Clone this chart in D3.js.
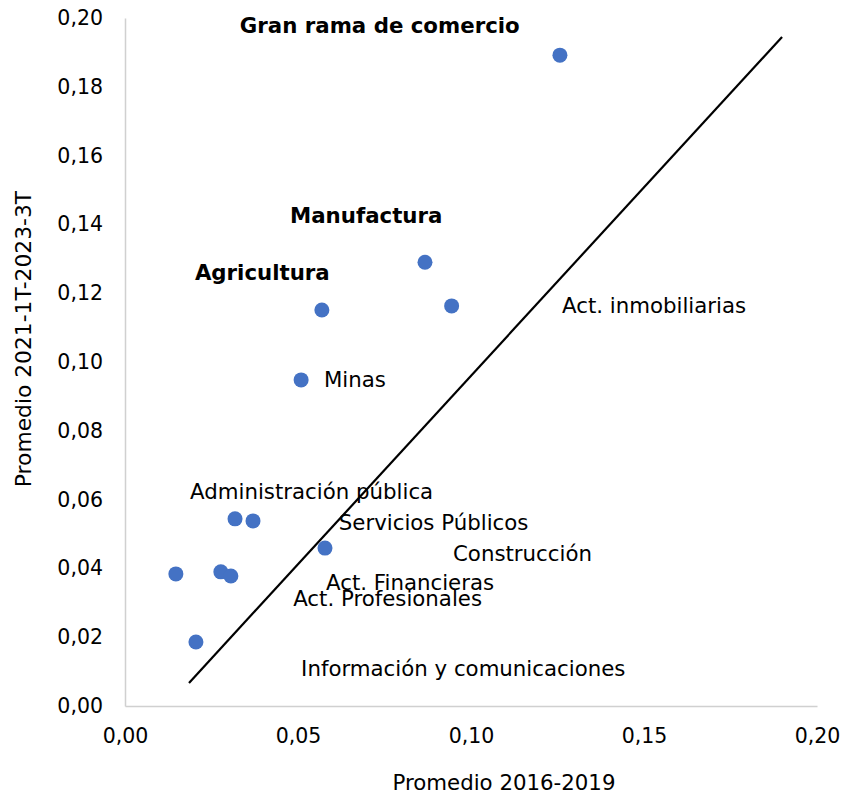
<!DOCTYPE html>
<html>
<head>
<meta charset="utf-8">
<script src="https://cdn.jsdelivr.net/npm/d3@7"></script>
<style>
  body { margin: 0; background: #fff; }
  text { font-family: "DejaVu Sans", Verdana, sans-serif; fill: #000; }
</style>
</head>
<body>
<div id="chart"></div>
<script>
// points (x = Promedio 2016-2019, y = Promedio 2021-1T-2023-3T)
const pointX = [0.1257, 0.0867, 0.0944, 0.0569, 0.0509, 0.0318, 0.0370, 0.0578, 0.0147, 0.0277, 0.0306, 0.0205]
const pointY = [0.1892, 0.1290, 0.1163, 0.1151, 0.0948, 0.0544, 0.0538, 0.0459, 0.0384, 0.0390, 0.0378, 0.0186]

// reference line
const lineX = [0.0185, 0.1899]
const lineY = [0.0067, 0.1945]

// data labels, anchored (left, middle) in data units as placed in the original
const labels = ['Gran rama de comercio', 'Manufactura', 'Agricultura', 'Act. inmobiliarias', 'Minas',
    'Administración pública', 'Servicios Públicos', 'Construcción', 'Act. Financieras',
    'Act. Profesionales', 'Información y comunicaciones']
const labelX = [0.0332, 0.0477, 0.0202, 0.1263, 0.0575, 0.0188, 0.0618, 0.0948, 0.0581, 0.0486, 0.0509]
const labelY = [0.1974, 0.1422, 0.1256, 0.1160, 0.0945, 0.0619, 0.0529, 0.0439, 0.0355, 0.0308, 0.0105]
const labelBold = [true, true, true, false, false, false, false, false, false, false, false]

const xTicks = [0, 0.05, 0.10, 0.15, 0.20]
const yTicks = [0, 0.02, 0.04, 0.06, 0.08, 0.10, 0.12, 0.14, 0.16, 0.18, 0.20]

const width = 843
const height = 795
const margin = { top: 18, left: 125, right: 26, bottom: 89 }
const fontSize = 21.3

const locale = d3.formatLocale({ decimal: ',', thousands: '.', grouping: [3], currency: ['', '€'] })
const fmt = locale.format('.2f')

const svg = d3.select('#chart').append('svg')
    .attr('width', width)
    .attr('height', height)

const xScale = d3.scaleLinear().domain([0, 0.20]).range([margin.left, width - margin.right])
const yScale = d3.scaleLinear().domain([0, 0.20]).range([height - margin.bottom, margin.top])

// axes
svg.append('g')
    .attr('transform', `translate(0, ${yScale(0)})`)
    .call(d3.axisBottom(xScale).tickValues(xTicks).tickFormat(fmt).tickSize(0).tickPadding(22))
svg.append('g')
    .attr('transform', `translate(${xScale(0)}, 0)`)
    .call(d3.axisLeft(yScale).tickValues(yTicks).tickFormat(fmt).tickSize(0).tickPadding(22))

svg.selectAll('.domain').attr('stroke', '#d0d0d0').attr('stroke-width', 1.5)
svg.selectAll('.tick text')
    .attr('font-size', 20.5)
    .attr('font-family', '"DejaVu Sans", Verdana, sans-serif')
    .attr('fill', '#000')

// axis titles
svg.append('text')
    .attr('x', 504)
    .attr('y', 784)
    .attr('text-anchor', 'middle')
    .attr('dominant-baseline', 'middle')
    .attr('font-size', fontSize)
    .text('Promedio 2016-2019')
svg.append('text')
    .attr('transform', 'translate(25, 339) rotate(-90)')
    .attr('text-anchor', 'middle')
    .attr('dominant-baseline', 'middle')
    .attr('font-size', 21.8)
    .text('Promedio 2021-1T-2023-3T')

// reference line
svg.append('line')
    .attr('x1', xScale(lineX[0]))
    .attr('y1', yScale(lineY[0]))
    .attr('x2', xScale(lineX[1]))
    .attr('y2', yScale(lineY[1]))
    .attr('stroke', '#000')
    .attr('stroke-width', 2.2)

// points
svg.append('g').selectAll('circle')
    .data(pointX.map((x, i) => ({ x: x, y: pointY[i] })))
    .join('circle')
    .attr('cx', d => xScale(d.x))
    .attr('cy', d => yScale(d.y))
    .attr('r', 7.5)
    .attr('fill', '#4472C4')

// labels
svg.append('g').selectAll('text')
    .data(labels.map((t, i) => ({ t: t, x: labelX[i], y: labelY[i], b: labelBold[i] })))
    .join('text')
    .attr('x', d => xScale(d.x))
    .attr('y', d => yScale(d.y))
    .attr('dominant-baseline', 'middle')
    .attr('font-size', fontSize)
    .attr('font-weight', d => d.b ? 'bold' : 'normal')
    .text(d => d.t)
</script>
</body>
</html>
